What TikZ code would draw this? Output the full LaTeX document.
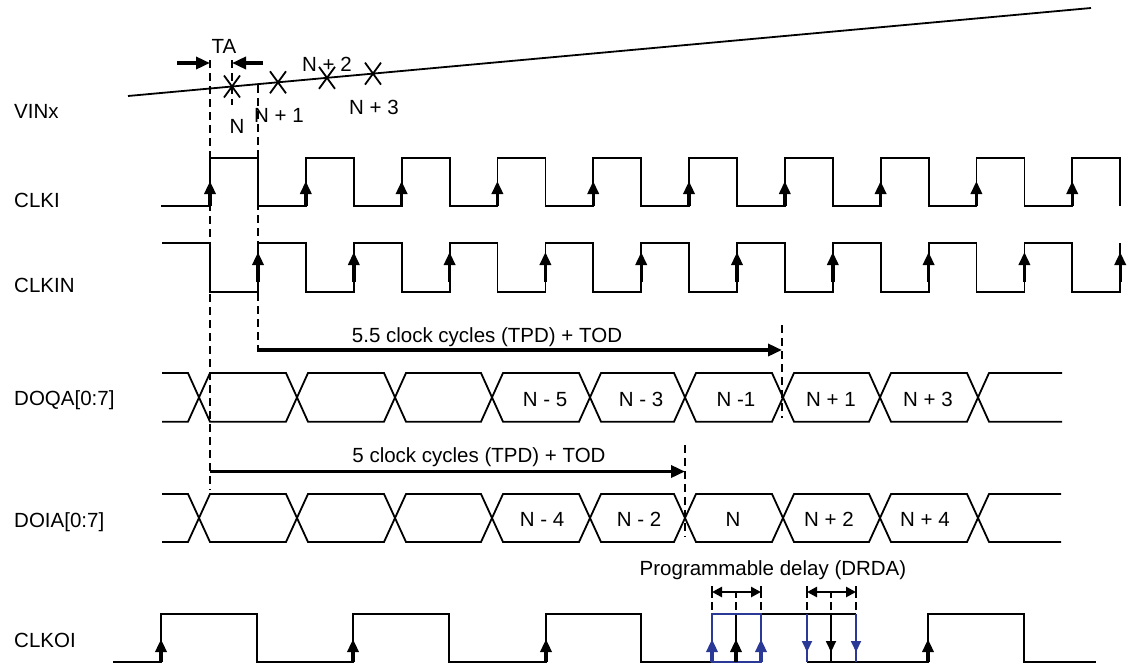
\documentclass[tikz,border=0pt]{standalone}
\usepackage{fontspec}
\setmainfont{Liberation Sans}
\usetikzlibrary{arrows.meta}
\definecolor{dblue}{RGB}{43,57,150}
\begin{document}
\begin{tikzpicture}[x=1pt,y=-1pt,
  sig/.style={line width=1.8pt, line join=miter},
  dsh/.style={line width=2.8pt, dash pattern=on 8pt off 5pt},
  lbl/.style={font=\fontsize{20.5}{24}\selectfont, inner sep=0pt, text height=14.7pt, text depth=0pt},
  sidelbl/.style={lbl, anchor=west},
  bigarr/.style={line width=3.4pt, -{Triangle[length=14pt,width=12pt]}},
  clkarr/.style={line width=3.4pt, -{Triangle[length=13pt,width=11pt]}},
  dnarr/.style={line width=1.8pt, -{Triangle[length=11pt,width=10pt]}},
  brk/.style={line width=2.6pt, {Triangle[length=10pt,width=10pt]}-{Triangle[length=10pt,width=10pt]}},
  tick/.style={line width=2.6pt},
]
\useasboundingbox (0,0) rectangle (1131,667);

% ---------- side labels ----------
\node[sidelbl] (lvin)  at (14,111) {VINx};
\node[sidelbl] (lclki) at (14,200) {CLKI};
\node[sidelbl] (lclkin) at (14,285) {CLKIN};
\node[sidelbl] (ldoqa) at (14,398) {DOQA[0:7]};
\node[sidelbl] (ldoia) at (14,520) {DOIA[0:7]};
\node[sidelbl] (lclko) at (14,640) {CLKOI};

% ---------- VINx ----------
\draw[sig] (128,96) -- (1091,8);
\foreach \x in {232,278,327,373} {
  \pgfmathsetmacro\yy{96-0.09136*(\x-128)}
  \draw[sig] (\x-8,\yy-11) -- (\x+8,\yy+11);
  \draw[sig] (\x-8,\yy+11) -- (\x+8,\yy-11);
}
\node[lbl] (ta) at (224,46) {TA};
\node[lbl] (sn) at (237,126) {N};
\node[lbl] (sn1) at (279,115) {N + 1};
\node[lbl] (sn2) at (327,64) {N + 2};
\node[lbl] (sn3) at (374,107) {N + 3};
\draw[bigarr] (177,63) -- (210,63);
\draw[bigarr] (263,63) -- (232,63);

% ---------- dashed markers ----------
\draw[dsh] (210,60) -- (210,490);
\draw[dsh] (232,60) -- (232,105);
\draw[dsh] (258,85) -- (258,350);
\draw[dsh] (782,325) -- (782,418);
\draw[dsh] (685,445) -- (685,537);

% ---------- CLKI ----------
\draw[sig] (161,206) \foreach \k in {0,...,9} {
  -- ({210+95.8*\k},206) -- ({210+95.8*\k},158) -- ({258+95.8*\k},158) -- ({258+95.8*\k},206) };
\foreach \k in {0,...,9} \draw[clkarr] ({210+95.8*\k},206) -- ({210+95.8*\k},181);

% ---------- CLKIN ----------
\draw[sig] (162,243) \foreach \k in {0,...,9} {
  -- ({210+95.8*\k},243) -- ({210+95.8*\k},292) -- ({258+95.8*\k},292) -- ({258+95.8*\k},243) };
\foreach \k in {0,...,9} \draw[clkarr] ({258+95.8*\k},282) -- ({258+95.8*\k},252);

% ---------- delay arrows ----------
\draw[bigarr] (257,350) -- (782,350);
\node[lbl] (t55) at (487,335) {5.5 clock cycles (TPD) + TOD};
\draw[bigarr] (210,471.5) -- (685,471.5);
\node[lbl] (t5) at (479,455) {5 clock cycles (TPD) + TOD};

% ---------- DOQA ----------
\draw[sig] (162,373) -- (188,373) -- (199,397.35) -- (188,421.7) -- (162,421.7);
\foreach \a/\b in {199/297,297/395,395/492,492/590,590/685,685/783,783/880,880/978}
  \draw[sig] (\a,397.35) -- (\a+11,373) -- (\b-11,373) -- (\b,397.35) -- (\b-11,421.7) -- (\a+11,421.7) -- cycle;
\draw[sig] (1062,373) -- (989,373) -- (978,397.35) -- (989,421.7) -- (1062,421.7);
\node[lbl] (q1) at (545,399) {N - 5};
\node[lbl] (q2) at (641,399) {N - 3};
\node[lbl] (q3) at (736,399) {N -1};
\node[lbl] (q4) at (831,399) {N + 1};
\node[lbl] (q5) at (928,399) {N + 3};

% ---------- DOIA ----------
\draw[sig] (162,494) -- (188,494) -- (199,518) -- (188,542) -- (162,542);
\foreach \a/\b in {199/297,297/395,395/492,492/590,590/685,685/783,783/880,880/978}
  \draw[sig] (\a,518) -- (\a+11,494) -- (\b-11,494) -- (\b,518) -- (\b-11,542) -- (\a+11,542) -- cycle;
\draw[sig] (1061,494) -- (989,494) -- (978,518) -- (989,542) -- (1061,542);
\node[lbl] (i1) at (542,519) {N - 4};
\node[lbl] (i2) at (639,519) {N - 2};
\node[lbl] (i3) at (733,519) {N};
\node[lbl] (i4) at (829,519) {N + 2};
\node[lbl] (i5) at (925,519) {N + 4};

% ---------- CLKOI ----------
\node[lbl] (tdrda) at (773,568) {Programmable delay (DRDA)};
\draw[sig] (113,662) -- (161,662) -- (161,614) -- (257,614) -- (257,662) -- (353,662) -- (353,614)
  -- (449,614) -- (449,662) -- (546,662) -- (546,614) -- (641,614) -- (641,662) -- (736,662)
  -- (736,614) -- (856,614);
\draw[sig] (831,614) -- (831,662);
\draw[sig] (807,662) -- (928,662) -- (928,614) -- (1024,614) -- (1024,662) -- (1096,662);
\draw[sig, dblue] (712,614) rectangle (761,662);
\draw[sig, dblue] (807,614) -- (807,662);
\draw[sig, dblue] (856,614) -- (856,662);
\foreach \x in {161,353,546,736,928} \draw[clkarr] (\x,662) -- (\x,639);
\foreach \x in {712,761} \draw[clkarr, dblue] (\x,662) -- (\x,639);
\draw[dnarr] (831,614) -- (831,652);
\foreach \x in {807,856} \draw[dnarr, dblue] (\x,614) -- (\x,652);
% brackets
\draw[brk] (712,592) -- (761,592);
\draw[brk] (807,592) -- (856,592);
\foreach \x in {712,761,807,856} \draw[tick] (\x,586) -- (\x,598);
\foreach \x in {736,831} \draw[tick] (\x,592) -- (\x,598);
\foreach \x in {712,736,761,807,831,856} \draw[tick] (\x,602) -- (\x,610);
\end{tikzpicture}
\end{document}
